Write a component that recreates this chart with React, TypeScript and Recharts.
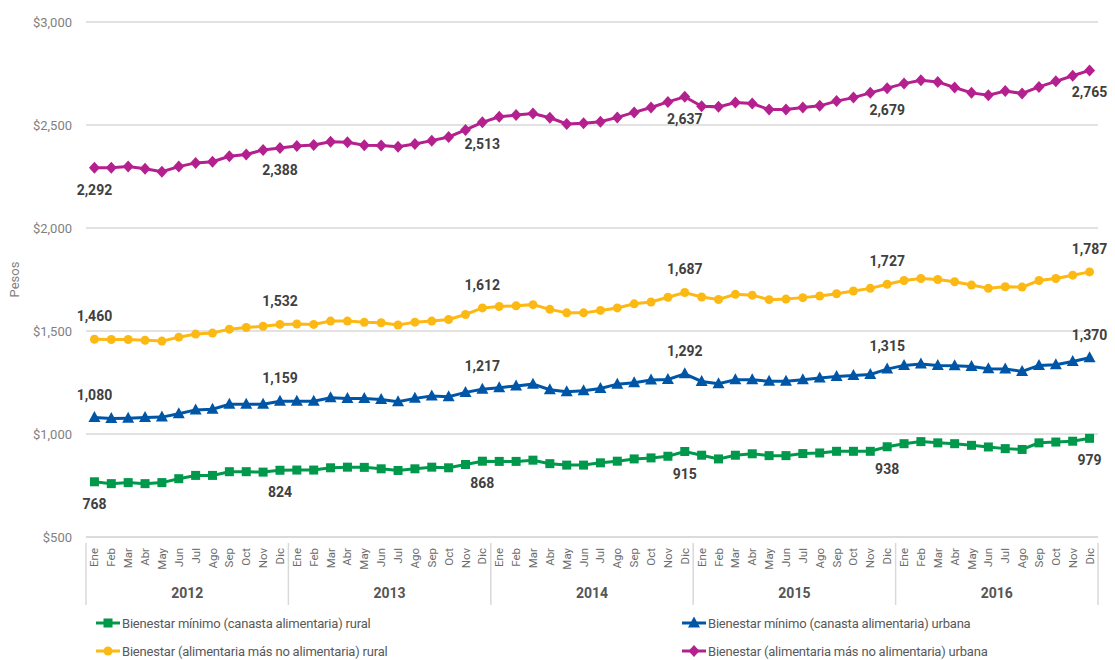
import React from "react";
import {
  LineChart,
  Line,
  XAxis,
  YAxis,
  CartesianGrid,
  LabelList,
} from "recharts";

const months = ["Ene", "Feb", "Mar", "Abr", "May", "Jun", "Jul", "Ago", "Sep", "Oct", "Nov", "Dic"];
const years = ["2012", "2013", "2014", "2015", "2016"];

// Bienestar mínimo (canasta alimentaria) rural
const ruralMin = [
  768, 759, 764, 759, 764, 783, 799, 799, 817, 817, 815, 824,
  825, 825, 836, 839, 838, 831, 823, 831, 839, 836, 852, 868,
  867, 867, 873, 856, 849, 849, 860, 868, 879, 884, 892, 915,
  897, 879, 897, 904, 895, 895, 905, 908, 916, 916, 916, 938,
  953, 963, 957, 953, 945, 937, 929, 925, 957, 961, 965, 979,
];
// Bienestar mínimo (canasta alimentaria) urbana
const urbanMin = [
  1080, 1075, 1077, 1080, 1082, 1098, 1117, 1120, 1144, 1144, 1144, 1159,
  1159, 1159, 1176, 1172, 1172, 1168, 1157, 1173, 1184, 1181, 1202, 1217,
  1225, 1233, 1242, 1215, 1205, 1210, 1221, 1242, 1249, 1262, 1265, 1292,
  1255, 1244, 1263, 1263, 1256, 1256, 1263, 1272, 1279, 1284, 1289, 1315,
  1333, 1340, 1333, 1331, 1328, 1317, 1315, 1304, 1333, 1336, 1352, 1370,
];
// Bienestar (alimentaria más no alimentaria) rural
const ruralTotal = [
  1460, 1459, 1459, 1455, 1451, 1470, 1485, 1490, 1509, 1517, 1523, 1532,
  1534, 1532, 1548, 1548, 1542, 1540, 1529, 1543, 1548, 1556, 1580, 1612,
  1619, 1622, 1628, 1605, 1588, 1588, 1600, 1612, 1632, 1641, 1664, 1687,
  1665, 1653, 1678, 1674, 1652, 1655, 1662, 1670, 1681, 1694, 1707, 1727,
  1745, 1755, 1750, 1739, 1723, 1707, 1715, 1713, 1745, 1755, 1771, 1787,
];
// Bienestar (alimentaria más no alimentaria) urbana
const urbanTotal = [
  2292, 2293, 2298, 2288, 2273, 2298, 2316, 2322, 2348, 2357, 2379, 2388,
  2398, 2403, 2419, 2416, 2402, 2400, 2394, 2408, 2424, 2442, 2476, 2513,
  2540, 2548, 2556, 2535, 2505, 2508, 2516, 2537, 2561, 2585, 2612, 2637,
  2591, 2588, 2609, 2604, 2575, 2575, 2585, 2593, 2616, 2633, 2656, 2679,
  2701, 2717, 2709, 2682, 2656, 2645, 2665, 2653, 2685, 2712, 2739, 2765,
];

const yTicks = [500, 1000, 1500, 2000, 2500, 3000];

const data = ruralMin.map((_, i) => ({
  key: i,
  month: months[i % 12],
  year: years[Math.floor(i / 12)],
  ruralMin: ruralMin[i],
  urbanMin: urbanMin[i],
  ruralTotal: ruralTotal[i],
  urbanTotal: urbanTotal[i],
}));

const W = 1115;
const H = 605;
const LEFT = 86;
const RIGHT = 17;
const BAND = (W - LEFT - RIGHT) / data.length;
const FONT = "Roboto, 'Open Sans', sans-serif";
const GRID = "#d9d9d9";

const GREEN = "#00984a";
const BLUE = "#0056a6";
const YELLOW = "#fdb913";
const MAGENTA = "#b5208f";

const fmt = (v: number) => v.toLocaleString("en-US");
const shown = (i: number) => i === 0 || i % 12 === 11;

function Marker({ shape, cx, cy, color }: any) {
  if (cx == null || cy == null) return null;
  if (shape === "square")
    return <rect x={cx - 4.5} y={cy - 4.5} width={9} height={9} fill={color} />;
  if (shape === "triangle")
    return (
      <polygon
        points={`${cx},${cy - 6.5} ${cx + 6},${cy + 4.5} ${cx - 6},${cy + 4.5}`}
        fill={color}
      />
    );
  if (shape === "diamond")
    return (
      <polygon
        points={`${cx},${cy - 6} ${cx + 5.5},${cy} ${cx},${cy + 6} ${cx - 5.5},${cy}`}
        fill={color}
      />
    );
  return <circle cx={cx} cy={cy} r={4.5} fill={color} />;
}

const dotFor = (shape: string, color: string) => (p: any) => (
  <Marker key={`${shape}-${p.index}`} shape={shape} cx={p.cx} cy={p.cy} color={color} />
);

// etiquetas solo en Ene 2012 y cada Dic
const labelFor = (dy: number) => (p: any) => {
  const { x, y, value, index } = p;
  if (!shown(index)) return null;
  return (
    <text
      x={x}
      y={y + dy}
      textAnchor="middle"
      fontFamily={FONT}
      fontSize={14}
      fontWeight={700}
      fill="#404040"
    >
      {fmt(value)}
    </text>
  );
};

function MonthTick(props: any) {
  const { x, y, payload } = props;
  return (
    <text
      transform={`translate(${x},${y + 3}) rotate(-90)`}
      textAnchor="end"
      dominantBaseline="central"
      fontFamily={FONT}
      fontSize={11.5}
      fill="#6b6b6b"
    >
      {data[payload.value].month}
    </text>
  );
}

function YearTick(props: any) {
  const { x, y, index } = props;
  const m = index % 12;
  const top = y - 42;
  return (
    <g>
      {m === 0 && (
        <line x1={x - BAND / 2} x2={x - BAND / 2} y1={top} y2={top + 64} stroke={GRID} strokeWidth={1.5} />
      )}
      {index === data.length - 1 && (
        <line x1={x + BAND / 2} x2={x + BAND / 2} y1={top} y2={top + 64} stroke={GRID} strokeWidth={1.5} />
      )}
      {m === 5 && (
        <text
          x={x + BAND / 2}
          y={y + 13}
          textAnchor="middle"
          fontFamily={FONT}
          fontSize={14}
          fontWeight={700}
          fill="#555"
        >
          {data[index].year}
        </text>
      )}
    </g>
  );
}

const legendItems = [
  { name: "Bienestar mínimo (canasta alimentaria) rural", color: GREEN, shape: "square", x: 96, y: 615 },
  { name: "Bienestar mínimo (canasta alimentaria) urbana", color: BLUE, shape: "triangle", x: 682, y: 615 },
  { name: "Bienestar (alimentaria más no alimentaria) rural", color: YELLOW, shape: "circle", x: 96, y: 643 },
  { name: "Bienestar (alimentaria más no alimentaria) urbana", color: MAGENTA, shape: "diamond", x: 682, y: 643 },
];

const pad = { left: BAND / 2, right: BAND / 2 };

export default function App() {
  return (
    <div
      style={{
        position: "absolute",
        left: 0,
        top: 0,
        width: W,
        height: 660,
        background: "#fff",
        fontFamily: FONT,
      }}
    >
      <LineChart
        width={W}
        height={H}
        data={data}
        margin={{ top: 22, right: RIGHT, bottom: 3, left: 0 }}
      >
        <CartesianGrid vertical={false} stroke={GRID} strokeWidth={1.5} />
        <XAxis
          dataKey="key"
          xAxisId="month"
          interval={0}
          height={40}
          padding={pad}
          axisLine={{ stroke: GRID, strokeWidth: 1.5 }}
          tickLine={false}
          tick={<MonthTick />}
        />
        <XAxis
          dataKey="key"
          xAxisId="year"
          interval={0}
          height={25}
          padding={pad}
          axisLine={false}
          tickLine={false}
          tick={<YearTick />}
        />
        <YAxis
          width={LEFT}
          domain={[500, 3000]}
          ticks={yTicks}
          axisLine={false}
          tickLine={false}
          tickMargin={8}
          tick={{ fill: "#7f7f7f", fontSize: 13, fontFamily: FONT }}
          tickFormatter={(v: number) => `$${fmt(v)}`}
          label={{
            value: "Pesos",
            angle: -90,
            position: "insideLeft",
            offset: 14,
            dy: 0,
            style: { fill: "#7f7f7f", fontSize: 13, fontFamily: FONT, textAnchor: "middle" },
          }}
        />
        <Line
          xAxisId="month"
          dataKey="urbanTotal"
          stroke={MAGENTA}
          strokeWidth={3}
          dot={dotFor("diamond", MAGENTA)}
          activeDot={false}
          isAnimationActive={false}
        >
          <LabelList dataKey="urbanTotal" content={labelFor(27)} />
        </Line>
        <Line
          xAxisId="month"
          dataKey="ruralTotal"
          stroke={YELLOW}
          strokeWidth={3}
          dot={dotFor("circle", YELLOW)}
          activeDot={false}
          isAnimationActive={false}
        >
          <LabelList dataKey="ruralTotal" content={labelFor(-18)} />
        </Line>
        <Line
          xAxisId="month"
          dataKey="urbanMin"
          stroke={BLUE}
          strokeWidth={3}
          dot={dotFor("triangle", BLUE)}
          activeDot={false}
          isAnimationActive={false}
        >
          <LabelList dataKey="urbanMin" content={labelFor(-18)} />
        </Line>
        <Line
          xAxisId="month"
          dataKey="ruralMin"
          stroke={GREEN}
          strokeWidth={3}
          dot={dotFor("square", GREEN)}
          activeDot={false}
          isAnimationActive={false}
        >
          <LabelList dataKey="ruralMin" content={labelFor(27)} />
        </Line>
      </LineChart>
      {legendItems.map((it) => (
        <div
          key={it.name}
          style={{
            position: "absolute",
            left: it.x,
            top: it.y,
            display: "flex",
            alignItems: "center",
            fontSize: 13,
            color: "#595959",
            whiteSpace: "nowrap",
          }}
        >
          <svg width={24} height={16} style={{ marginRight: 2 }}>
            <line x1={0} x2={24} y1={8} y2={8} stroke={it.color} strokeWidth={3} />
            <Marker shape={it.shape} cx={12} cy={8} color={it.color} />
          </svg>
          <span style={{ letterSpacing: -0.2 }}>{it.name}</span>
        </div>
      ))}
    </div>
  );
}
